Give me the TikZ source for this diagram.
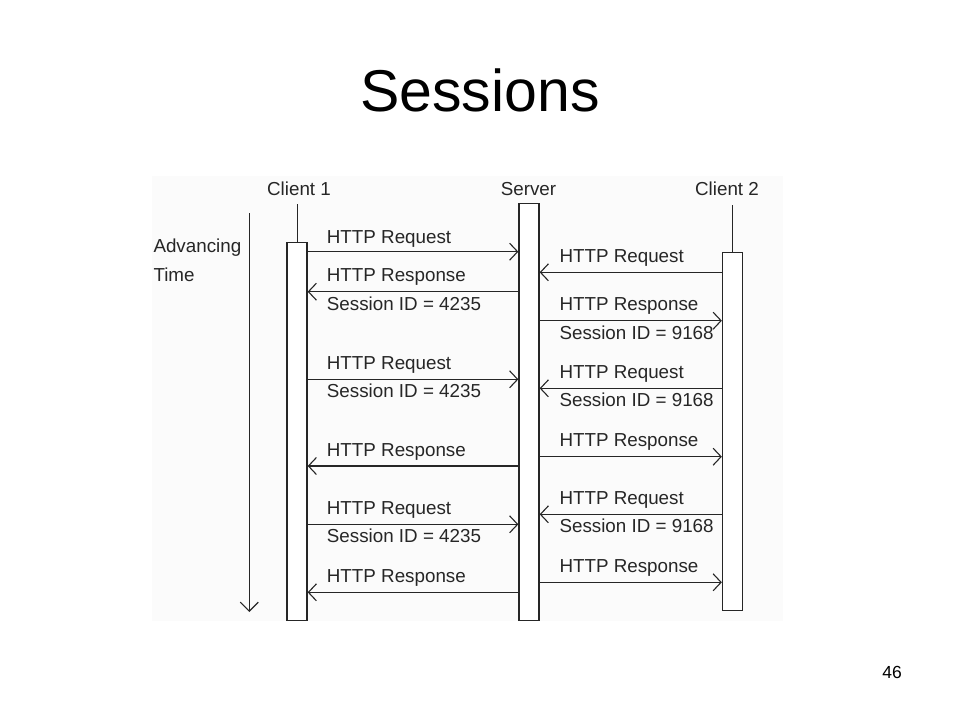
\documentclass[tikz,border=0pt]{standalone}
\usepackage{fontspec}
\setmainfont{Liberation Sans}
\usetikzlibrary{arrows.meta}
\definecolor{ink}{HTML}{262626}
\definecolor{bgpanel}{HTML}{FBFBFB}
\tikzset{
  lifebox/.style={draw=ink, line width=1.3pt, fill=white, minimum width=20pt, inner sep=0pt, anchor=north},
  lifeline/.style={draw=ink, line width=1.2pt},
  msg/.style={draw=ink, line width=1.1pt, -{Straight Barb[length=8pt,width=17pt,line width=1.1pt]}},
  lbl/.style={anchor=base west, inner sep=0pt, text=ink, font=\fontsize{18.8}{20}\selectfont},
  hdr/.style={anchor=base, inner sep=0pt, text=ink, font=\fontsize{18.8}{20}\selectfont},
}
\begin{document}
\begin{tikzpicture}[x=1pt,y=-1pt]
\useasboundingbox (0,0) rectangle (960,720);
\fill[white] (0,0) rectangle (960,720);
\fill[bgpanel] (152,176) rectangle (783,621);
% title and page number
\node[anchor=base, inner sep=0pt, font=\fontsize{59}{60}\selectfont] (title) at (480,111.7) {Sessions};
\node[anchor=base, inner sep=0pt, font=\fontsize{17.5}{18}\selectfont] (pnum) at (892,678.3) {46};
% headers
\node[hdr] (h1) at (299,195) {Client 1};
\node[hdr] (hs) at (528.5,195) {Server};
\node[hdr] (h2) at (727,195) {Client 2};
% advancing time
\node[lbl] (adv) at (153.3,252) {Advancing};
\node[lbl] (tim) at (153.3,281.7) {Time};
\coordinate (tTop) at (249.3,213);
\coordinate (tBot) at (249.3,612);
\draw[draw=ink, line width=1.2pt, -{Straight Barb[length=9pt,width=18pt,line width=1.2pt]}] (tTop) -- (tBot);
% lifelines
\coordinate (c1top) at (297.5,204);
\coordinate (c2top) at (732.5,205);
\node[lifebox, minimum height=378pt] (c1) at (297,242) {};
\node[lifebox, minimum height=417pt] (srv) at (529,203) {};
\node[lifebox, minimum height=358pt] (c2) at (732.5,252) {};
\draw[lifeline] (c1top) -- (c1.north -| c1top);
\draw[lifeline] (c2top) -- (c2.north -| c2top);
% message y positions, client 1 side
\coordinate (a1) at (0,251.7);
\coordinate (a2) at (0,291.7);
\coordinate (a3) at (0,379.3);
\coordinate (a4) at (0,466);
\coordinate (a5) at (0,524.3);
\coordinate (a6) at (0,592.3);
% client 2 side
\coordinate (b1) at (0,272.3);
\coordinate (b2) at (0,320.7);
\coordinate (b3) at (0,388.3);
\coordinate (b4) at (0,456.7);
\coordinate (b5) at (0,514.3);
\coordinate (b6) at (0,582.3);
% client 1 messages
\draw[msg] (c1.east |- a1) -- (srv.west |- a1);
\draw[msg] (srv.west |- a2) -- (c1.east |- a2);
\draw[msg] (c1.east |- a3) -- (srv.west |- a3);
\draw[msg] (srv.west |- a4) -- (c1.east |- a4);
\draw[msg] (c1.east |- a5) -- (srv.west |- a5);
\draw[msg] (srv.west |- a6) -- (c1.east |- a6);
% client 2 messages
\draw[msg] (c2.west |- b1) -- (srv.east |- b1);
\draw[msg] (srv.east |- b2) -- (c2.west |- b2);
\draw[msg] (c2.west |- b3) -- (srv.east |- b3);
\draw[msg] (srv.east |- b4) -- (c2.west |- b4);
\draw[msg] (c2.west |- b5) -- (srv.east |- b5);
\draw[msg] (srv.east |- b6) -- (c2.west |- b6);
% labels client 1 side
\node[lbl] (la1) at (326.7,243.3) {HTTP Request};
\node[lbl] (la2) at (326.7,281.7) {HTTP Response};
\node[lbl] (la2b) at (326.7,310) {Session ID = 4235};
\node[lbl] (la3) at (326.7,369.3) {HTTP Request};
\node[lbl] (la3b) at (326.7,397.6) {Session ID = 4235};
\node[lbl] (la4) at (326.7,456) {HTTP Response};
\node[lbl] (la5) at (326.7,514.3) {HTTP Request};
\node[lbl] (la5b) at (326.7,542.6) {Session ID = 4235};
\node[lbl] (la6) at (326.7,582.3) {HTTP Response};
% labels client 2 side
\node[lbl] (lb1) at (559.3,262.3) {HTTP Request};
\node[lbl] (lb2) at (559.3,310.7) {HTTP Response};
\node[lbl] (lb2b) at (559.3,339) {Session ID = 9168};
\node[lbl] (lb3) at (559.3,378.3) {HTTP Request};
\node[lbl] (lb3b) at (559.3,406.6) {Session ID = 9168};
\node[lbl] (lb4) at (559.3,446.7) {HTTP Response};
\node[lbl] (lb5) at (559.3,504.3) {HTTP Request};
\node[lbl] (lb5b) at (559.3,532.6) {Session ID = 9168};
\node[lbl] (lb6) at (559.3,572.3) {HTTP Response};
\end{tikzpicture}
\end{document}
